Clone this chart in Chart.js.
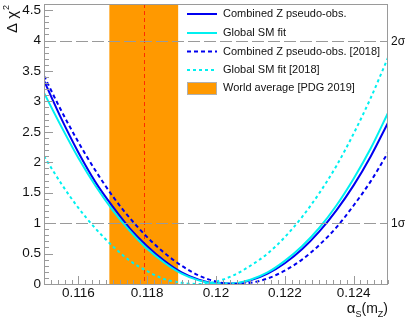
<!DOCTYPE html>
<html>
<head>
<meta charset="utf-8">
<script src="https://cdn.jsdelivr.net/npm/chart.js@4"></script>
<style>
  html, body { margin: 0; padding: 0; background: #fff; }
  canvas { display: block; }
</style>
</head>
<body>
<canvas id="alphaChart" width="407" height="320"></canvas>
<script>
// ---- data ----
const ALPHA_S = [0.1150, 0.1155, 0.1160, 0.1165, 0.1170, 0.1175, 0.1180, 0.1185, 0.1190, 0.1195,
                 0.1200, 0.1205, 0.1210, 0.1215, 0.1220, 0.1225, 0.1230, 0.1235, 0.1240, 0.1245, 0.1250];

const COMBINED_Z      = [3.34, 2.72, 2.16, 1.67, 1.27, 0.91, 0.62, 0.38, 0.19, 0.07,
                         0.01, 0.01, 0.06, 0.17, 0.34, 0.57, 0.86, 1.21, 1.62, 2.10, 2.65];
const GLOBAL_SM       = [3.14, 2.59, 2.07, 1.61, 1.21, 0.87, 0.58, 0.35, 0.17, 0.06,
                         0.01, 0.01, 0.07, 0.19, 0.38, 0.62, 0.92, 1.29, 1.73, 2.23, 2.81];
const COMBINED_Z_2018 = [3.42, 2.85, 2.33, 1.86, 1.44, 1.08, 0.77, 0.51, 0.30, 0.14,
                         0.04, 0.00, 0.02, 0.09, 0.22, 0.40, 0.64, 0.93, 1.29, 1.69, 2.16];
const GLOBAL_SM_2018  = [2.10, 1.65, 1.25, 0.91, 0.62, 0.38, 0.21, 0.08, 0.02, 0.00,
                         0.04, 0.14, 0.30, 0.50, 0.77, 1.10, 1.49, 1.94, 2.47, 3.06, 3.72];

const PDG_CENTER = 0.1179;
const PDG_ERR = 0.0010;

const X_TICKS = [0.116, 0.118, 0.120, 0.122, 0.124];
const Y_TICKS = [0, 0.5, 1, 1.5, 2, 2.5, 3, 3.5, 4, 4.5];
const SIGMA_LEVELS = [1, 4];
const SIGMA_LABELS = ["1σ", "2σ"];

const LEGEND_LABELS = [
  "Combined Z pseudo-obs.",
  "Global SM fit",
  "Combined Z pseudo-obs. [2018]",
  "Global SM fit [2018]",
  "World average [PDG 2019]"
];

const COLORS = {
  blue: "#0000f0",
  cyan: "#00f0f0",
  orange: "#ff9900",
  red: "#ff2a00",
  frame: "#9a9a9a",
  text: "#111"
};
const FONT = "'Liberation Sans', Arial, sans-serif";

const toXY = ys => ALPHA_S.map((x, i) => ({ x: x, y: ys[i] }));

function curve(label, ys, color, dash) {
  return {
    label: label,
    data: toXY(ys),
    borderColor: color,
    borderWidth: 2,
    borderDash: dash,
    pointRadius: 0,
    fill: false,
    cubicInterpolationMode: "monotone"
  };
}

/* ================================
   PLUGIN: band, frame, ticks, sigma lines, legend, titles
================================ */
const decorations = {
  id: "decorations",
  beforeDatasetsDraw(chart) {
    const { ctx, chartArea, scales } = chart;
    const x = scales.x;
    ctx.save();
    // PDG band
    const x0 = x.getPixelForValue(PDG_CENTER - PDG_ERR);
    const x1 = x.getPixelForValue(PDG_CENTER + PDG_ERR);
    ctx.fillStyle = COLORS.orange;
    ctx.fillRect(x0, chartArea.top, x1 - x0, chartArea.bottom - chartArea.top);
    // central value
    const xc = Math.round(x.getPixelForValue(PDG_CENTER)) + 0.5;
    ctx.strokeStyle = COLORS.red;
    ctx.lineWidth = 1;
    ctx.setLineDash([4, 3]);
    ctx.beginPath();
    ctx.moveTo(xc, chartArea.top);
    ctx.lineTo(xc, chartArea.bottom);
    ctx.stroke();
    ctx.restore();
  },
  afterDatasetsDraw(chart) {
    const { ctx, chartArea, scales } = chart;
    const x = scales.x, y = scales.y;
    const { left, right, top, bottom } = chartArea;
    ctx.save();

    // sigma lines
    ctx.strokeStyle = COLORS.frame;
    ctx.lineWidth = 1;
    ctx.setLineDash([12, 4]);
    SIGMA_LEVELS.forEach((lvl, i) => {
      const py = Math.round(y.getPixelForValue(lvl)) + 0.5;
      ctx.beginPath();
      ctx.moveTo(left, py);
      ctx.lineTo(right, py);
      ctx.stroke();
      ctx.fillStyle = COLORS.text;
      ctx.font = "12px " + FONT;
      ctx.textAlign = "left";
      ctx.textBaseline = "middle";
      ctx.fillText(SIGMA_LABELS[i], right + 3, py);
    });
    ctx.setLineDash([]);

    // frame
    ctx.strokeStyle = COLORS.frame;
    ctx.strokeRect(left + 0.5, top + 0.5, right - left - 1, bottom - top);

    // inward ticks, x
    ctx.beginPath();
    for (let i = 0; i <= 50; i++) {
      const v = 0.115 + i * 0.0002;
      const px = Math.round(x.getPixelForValue(v)) + 0.5;
      const major = X_TICKS.some(t => Math.abs(t - v) < 1e-7);
      ctx.moveTo(px, bottom);
      ctx.lineTo(px, bottom - (major ? 8 : 4));
    }
    // inward ticks, y
    for (let i = 0; i <= 46; i++) {
      const v = i * 0.1;
      const py = Math.round(y.getPixelForValue(v)) + 0.5;
      const major = Y_TICKS.some(t => Math.abs(t - v) < 1e-7);
      ctx.moveTo(left, py);
      ctx.lineTo(left + (major ? 9 : 5), py);
    }
    ctx.stroke();
    ctx.restore();
  },
  afterDraw(chart) {
    const { ctx } = chart;
    ctx.save();

    // legend
    const rows = [14, 33, 51.5, 70, 88];
    const lx0 = 187, lx1 = 217, tx = 223;
    const styles = [
      { color: COLORS.blue, dash: [] },
      { color: COLORS.cyan, dash: [] },
      { color: COLORS.blue, dash: [4, 3] },
      { color: COLORS.cyan, dash: [3, 3] }
    ];
    styles.forEach((s, i) => {
      ctx.strokeStyle = s.color;
      ctx.lineWidth = 2;
      ctx.setLineDash(s.dash);
      ctx.beginPath();
      ctx.moveTo(lx0, rows[i]);
      ctx.lineTo(lx1, rows[i]);
      ctx.stroke();
    });
    ctx.setLineDash([]);
    ctx.fillStyle = COLORS.orange;
    ctx.fillRect(lx0, rows[4] - 6, lx1 - lx0, 13);
    ctx.strokeStyle = "#b0b0b0";
    ctx.lineWidth = 1;
    ctx.strokeRect(lx0 + 0.5, rows[4] - 5.5, lx1 - lx0 - 1, 12);

    ctx.fillStyle = COLORS.text;
    ctx.font = "11px " + FONT;
    ctx.textAlign = "left";
    ctx.textBaseline = "middle";
    LEGEND_LABELS.forEach((t, i) => ctx.fillText(t, tx, rows[i]));

    // y title: Δ χ^2 (rotated)
    ctx.save();
    ctx.translate(17, 33);
    ctx.rotate(-Math.PI / 2);
    ctx.textAlign = "left";
    ctx.textBaseline = "alphabetic";
    ctx.font = "15px " + FONT;
    const main = "Δ χ";
    ctx.fillText(main, 0, 0);
    const w = ctx.measureText(main).width;
    ctx.font = "9px " + FONT;
    ctx.fillText("2", w + 1, -8);
    ctx.restore();

    // x title: α_S(m_Z), right aligned to plot edge
    const parts = [
      { t: "α", size: 15, dy: 0 },
      { t: "S", size: 9, dy: 4 },
      { t: "(m", size: 14, dy: 0 },
      { t: "Z", size: 9, dy: 4 },
      { t: ")", size: 14, dy: 0 }
    ];
    let total = 0;
    parts.forEach(p => { ctx.font = p.size + "px " + FONT; p.w = ctx.measureText(p.t).width; total += p.w; });
    let cx = chart.chartArea.right - total;
    ctx.textAlign = "left";
    ctx.textBaseline = "alphabetic";
    parts.forEach(p => {
      ctx.font = p.size + "px " + FONT;
      ctx.fillText(p.t, cx, 313 + p.dy);
      cx += p.w;
    });
    ctx.restore();
  }
};

const fmt = v => String(+(+v).toFixed(3));

new Chart(document.getElementById("alphaChart"), {
  type: "line",
  data: {
    datasets: [
      curve(LEGEND_LABELS[3], GLOBAL_SM_2018, COLORS.cyan, [3, 3]),
      curve(LEGEND_LABELS[2], COMBINED_Z_2018, COLORS.blue, [4, 3]),
      curve(LEGEND_LABELS[1], GLOBAL_SM, COLORS.cyan, []),
      curve(LEGEND_LABELS[0], COMBINED_Z, COLORS.blue, [])
    ]
  },
  options: {
    responsive: false,
    devicePixelRatio: 1,
    animation: false,
    layout: { padding: { top: 4, right: 19, left: 0, bottom: 0 } },
    plugins: {
      legend: { display: false },
      tooltip: { enabled: false }
    },
    scales: {
      x: {
        type: "linear",
        min: 0.115,
        max: 0.125,
        grid: { display: false, drawTicks: false },
        border: { display: false },
        afterBuildTicks: s => { s.ticks = X_TICKS.map(v => ({ value: v })); },
        afterFit: s => { s.height = 36; s.paddingLeft = 0; s.paddingRight = 0; },
        ticks: {
          padding: 1,
          maxRotation: 0,
          autoSkip: false,
          color: COLORS.text,
          font: { family: FONT, size: 13.5 },
          callback: v => fmt(v)
        }
      },
      y: {
        type: "linear",
        min: 0,
        max: 4.6,
        grid: { display: false, drawTicks: false },
        border: { display: false },
        afterBuildTicks: s => { s.ticks = Y_TICKS.map(v => ({ value: v })); },
        afterFit: s => { s.width = 44; s.paddingTop = 0; s.paddingBottom = 0; },
        ticks: {
          padding: 3,
          autoSkip: false,
          color: COLORS.text,
          font: { family: FONT, size: 13.5 },
          callback: v => fmt(v)
        }
      }
    }
  },
  plugins: [decorations]
});
</script>
</body>
</html>
